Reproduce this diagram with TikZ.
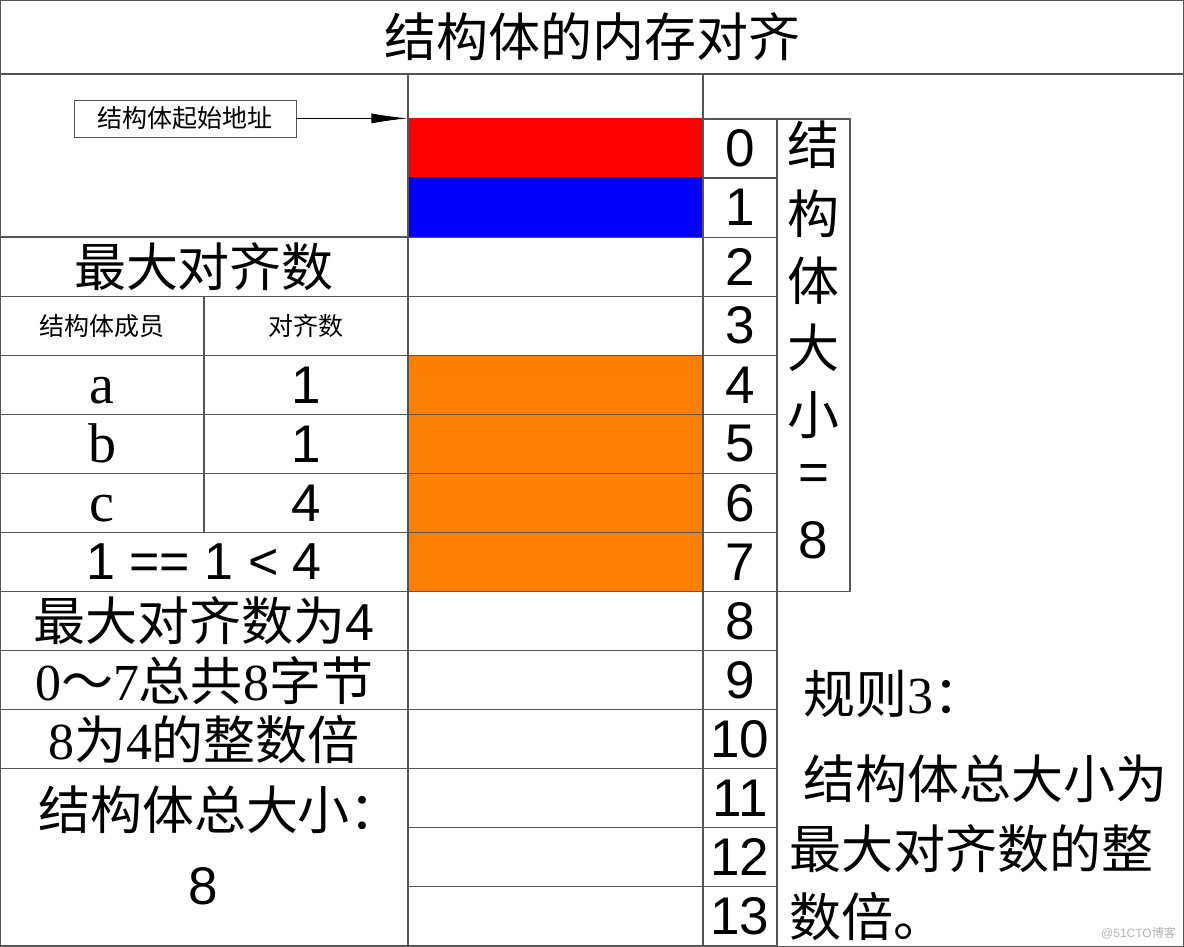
\documentclass[tikz,border=0pt]{standalone}
\usepackage{fontspec}
\setmainfont{Liberation Serif}
\newfontfamily\cjk{Noto Sans CJK SC}
\newfontfamily\arial{Liberation Sans}
\usetikzlibrary{arrows.meta}
\usetikzlibrary{positioning}
\newcommand{\zh}[1]{{\cjk #1}}
\definecolor{memred}{RGB}{255,0,0}
\definecolor{memblue}{RGB}{0,0,255}
\definecolor{memorange}{RGB}{255,128,0}
\definecolor{gridgray}{RGB}{85,85,85}

\tikzset{
  cell/.style={draw=gridgray, line width=1.2pt, inner sep=0pt},
  memcell/.style={cell, minimum width=295pt, minimum height=59.07pt},
  idxcell/.style={cell, minimum width=74pt, minimum height=59.07pt, font=\arial\fontsize{53}{60}\selectfont},
  wide/.style={cell, minimum width=408pt, minimum height=59.07pt, font=\fontsize{52}{62}\selectfont},
  half/.style={cell, minimum width=204pt, minimum height=59.07pt},
  bigzh/.style={font=\cjk\fontsize{52}{62}\selectfont, inner sep=0pt},
  smallzh/.style={font=\cjk\fontsize{25}{30}\selectfont},
  numfont/.style={font=\arial\fontsize{53}{60}\selectfont, inner sep=0pt},
  ruletext/.style={font=\fontsize{52}{62}\selectfont, inner sep=0pt, anchor=west},
}

\begin{document}
\begin{tikzpicture}[x=1pt,y=-1pt]
\useasboundingbox (0,0) rectangle (1184,947);
% frame and title
\draw[gridgray, line width=1.2pt] (0.6,0.6) rectangle (1183.4,946.4);
\node[cell, bigzh, minimum width=1183pt, minimum height=74pt] (title) at (592,37) {结构体的内存对齐};

% memory bytes and offsets
\node[memcell, minimum height=45pt] (mhead) at (555.5,96.5) {};
\foreach \r/\col/\edge in {0/memred/memred,1/memblue/memblue,2/white/gridgray,3/white/gridgray,
    4/memorange/gridgray,5/memorange/gridgray,6/memorange/gridgray,7/memorange/gridgray,
    8/white/gridgray,9/white/gridgray,10/white/gridgray,11/white/gridgray,12/white/gridgray,13/white/gridgray}{
  \node[memcell, fill=\col, draw=\edge] (m\r) at (555.5,{148.5+59.07*\r}) {};
  \node[idxcell] (i\r) at (740,{148.5+59.07*\r}) {\r};
}

% size of the struct, written downwards
\node[cell, minimum width=73pt, minimum height=472.6pt] (sizebox) at (813.5,355.3) {};
\foreach \ch/\yy [count=\k] in {结/145,构/214,体/281,大/348,小/415}
  \node[bigzh] (sz\k) at (813.5,\yy) {\ch};
\node[numfont] (szeq) at (813.5,478) {=};
\node[numfont] (szval) at (813.5,540) {8};

% start address
\node[cell, minimum width=408pt, minimum height=163pt] (topleft) at (204,155.5) {};
\node[cell, smallzh, line width=0.9pt, minimum width=222pt, minimum height=37pt] (addr) at (185,118.5) {结构体起始地址};
\draw[-{Latex[length=36pt,width=10pt]}, line width=0.8pt] (addr.east) -- (m0.north west);

% member table
\node[wide] (maxhead) at (204,{148.5+59.07*2}) {\zh{最大对齐数}};
\node[half, smallzh] (memhead) at (102,{148.5+59.07*3}) {结构体成员};
\node[half, smallzh] (alnhead) at (306,{148.5+59.07*3}) {对齐数};
\foreach \r/\mem/\aln in {4/a/1,5/b/1,6/c/4}{
  \node[half, font=\fontsize{56}{62}\selectfont, text height=38pt, text depth=0pt] (mem\r) at (102,{148.5+59.07*\r}) {\mem};
  \node[half, font=\arial\fontsize{53}{60}\selectfont] (aln\r) at (306,{148.5+59.07*\r}) {\aln};
}
\node[wide] (cmp) at (204,{148.5+59.07*7}) {\arial 1 == 1 < 4};
\node[wide] (maxval) at (204,{148.5+59.07*8}) {\zh{最大对齐数为}\arial 4};
\node[wide] (bytes) at (204,{148.5+59.07*9}) {0\zh{～}7\zh{总共}8\zh{字节}};
\node[wide] (mult) at (204,{148.5+59.07*10}) {8\zh{为}4\zh{的整数倍}};
\node[cell, minimum width=408pt, minimum height=177.2pt] (totcell) at (204,857.4) {};
\node[bigzh] (totlabel) at (220,810) {结构体总大小：};
\node[numfont] (totval) at (203,886) {8};

% rule 3
\node[ruletext] (rulehead) at (803,694) {\zh{规则}3\zh{：}};
\node[ruletext] (rule1) at (803,779) {\zh{结构体总大小为}};
\node[ruletext] (rule2) at (789,849) {\zh{最大对齐数的整}};
\node[ruletext] (rule3) at (789,917) {\zh{数倍。}};

\node[font=\fontsize{12}{14}\selectfont, text=black!30, anchor=east, inner sep=0pt] (mark) at (1176,933) {{\arial @51CTO}\zh{博客}};
\end{tikzpicture}
\end{document}
